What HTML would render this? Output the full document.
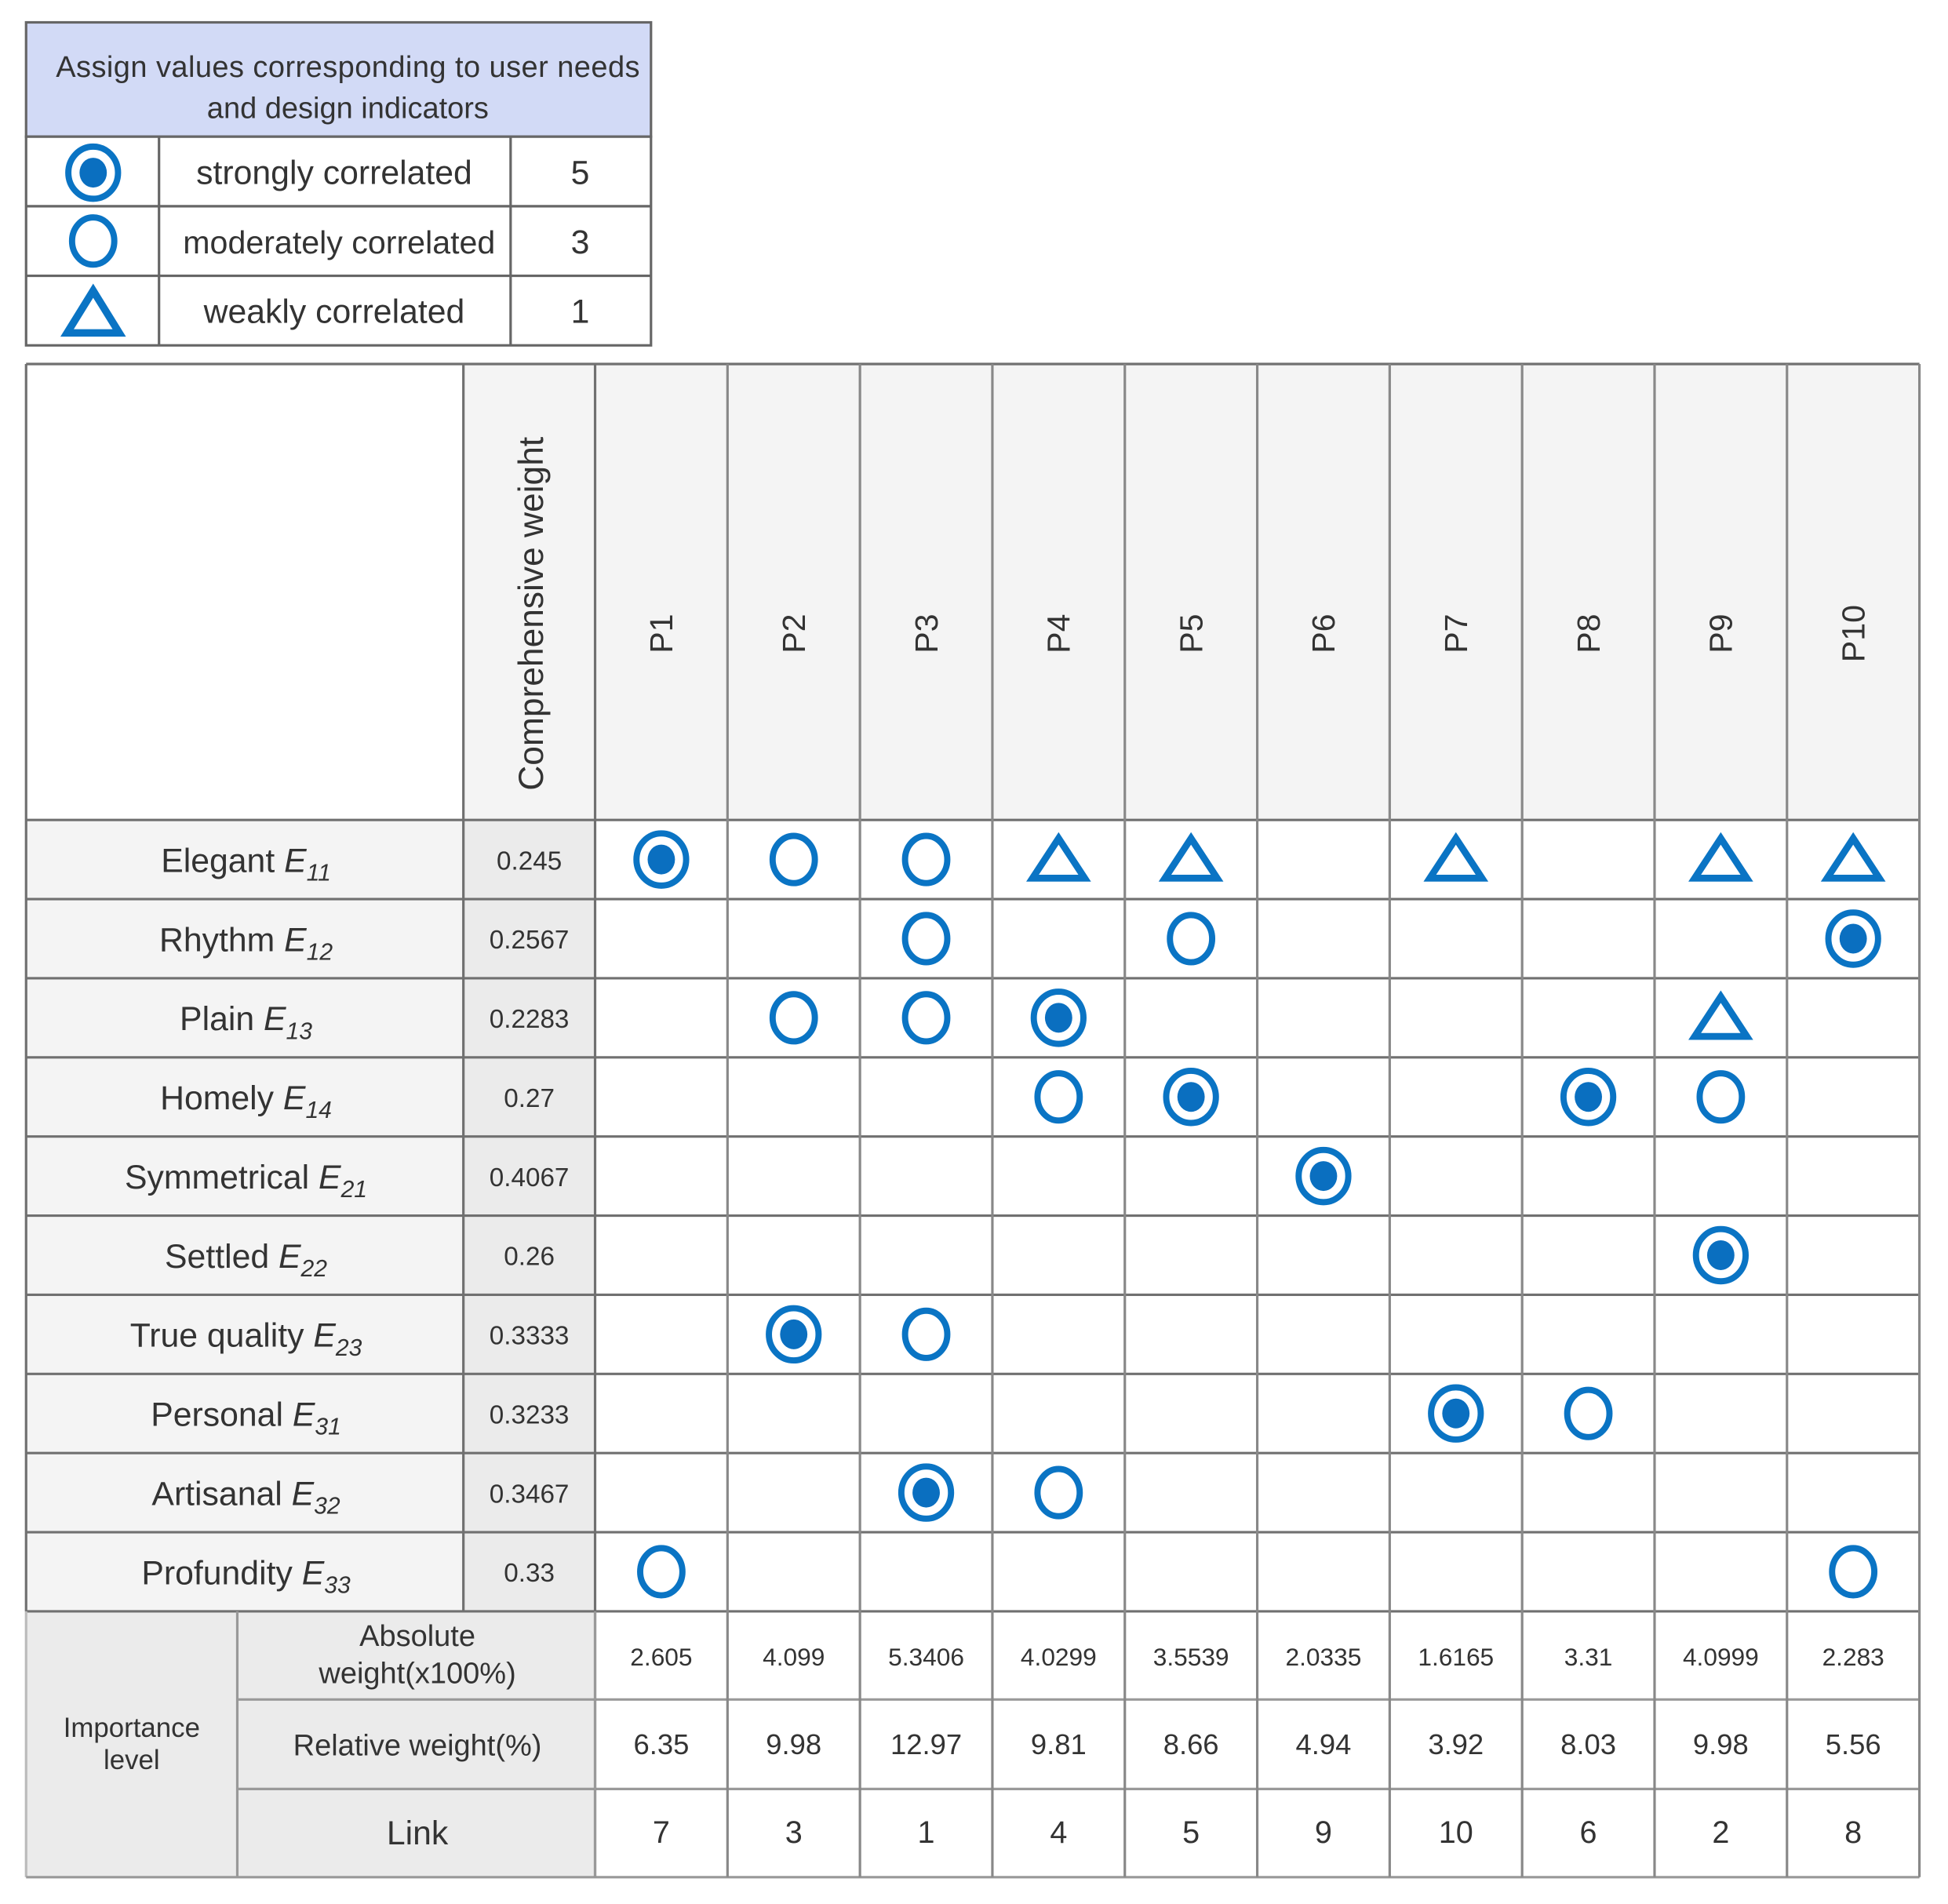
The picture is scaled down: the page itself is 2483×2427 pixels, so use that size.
<!DOCTYPE html>
<html><head><meta charset="utf-8">
<style>
html,body{margin:0;padding:0;background:#fff;}
svg{display:block;}
text{font-family:"Liberation Sans",sans-serif;fill:#333;}
</style></head>
<body>
<svg id="chart" width="2483" height="2427" viewBox="0 0 1568 1532.6" preserveAspectRatio="none" xmlns="http://www.w3.org/2000/svg">
<g id="legend">
 <rect x="21" y="18" width="503" height="92" fill="#d2daf6" stroke="#666" stroke-width="2"/>
 <text x="280" y="62" font-size="24" text-anchor="middle" fill="#222" textLength="470">Assign values corresponding to user needs</text>
 <text x="280" y="95" font-size="24" text-anchor="middle" fill="#222">and design indicators</text>
 <rect x="21" y="110" width="503" height="168" fill="#fff" stroke="#666" stroke-width="2"/>
 <line x1="21" y1="166" x2="524" y2="166" stroke="#666" stroke-width="2"/>
 <line x1="21" y1="222" x2="524" y2="222" stroke="#666" stroke-width="2"/>
 <line x1="128" y1="110" x2="128" y2="278" stroke="#666" stroke-width="2"/>
 <line x1="411" y1="110" x2="411" y2="278" stroke="#666" stroke-width="2"/>
 <g>
  <ellipse cx="75" cy="139" rx="20" ry="21" fill="none" stroke="#0a74c4" stroke-width="5"/>
  <ellipse cx="75" cy="139" rx="11" ry="12" fill="#0a6fc0"/>
  <text x="269" y="148" font-size="27" text-anchor="middle">strongly correlated</text>
  <text x="467" y="148" font-size="27" text-anchor="middle">5</text>
 </g>
 <g>
  <ellipse cx="75" cy="194" rx="17" ry="19" fill="none" stroke="#0a74c4" stroke-width="5"/>
  <text x="273" y="204" font-size="26" text-anchor="middle">moderately correlated</text>
  <text x="467" y="204" font-size="27" text-anchor="middle">3</text>
 </g>
 <g>
  <polygon points="75,234 96,268 54,268" fill="none" stroke="#0a74c4" stroke-width="6"/>
  <text x="269" y="260" font-size="27" text-anchor="middle">weakly correlated</text>
  <text x="467" y="260" font-size="27" text-anchor="middle">1</text>
 </g>
</g>
<g id="table"></g>
</svg>
<script>
const products = ["P1","P2","P3","P4","P5","P6","P7","P8","P9","P10"];
const needs = ["Elegant","Rhythm","Plain","Homely","Symmetrical","Settled","True quality","Personal","Artisanal","Profundity"];
const needSubs = ["11","12","13","14","21","22","23","31","32","33"];
const weights = ["0.245","0.2567","0.2283","0.27","0.4067","0.26","0.3333","0.3233","0.3467","0.33"];
const rowE11 = [5,3,3,1,1,0,1,0,1,1];
const rowE12 = [0,0,3,0,3,0,0,0,0,5];
const rowE13 = [0,3,3,5,0,0,0,0,1,0];
const rowE14 = [0,0,0,3,5,0,0,5,3,0];
const rowE21 = [0,0,0,0,0,5,0,0,0,0];
const rowE22 = [0,0,0,0,0,0,0,0,5,0];
const rowE23 = [0,5,3,0,0,0,0,0,0,0];
const rowE31 = [0,0,0,0,0,0,5,3,0,0];
const rowE32 = [0,0,5,3,0,0,0,0,0,0];
const rowE33 = [3,0,0,0,0,0,0,0,0,3];
const absWeights = ["2.605","4.099","5.3406","4.0299","3.5539","2.0335","1.6165","3.31","4.0999","2.283"];
const relWeights = ["6.35","9.98","12.97","9.81","8.66","4.94","3.92","8.03","9.98","5.56"];
const links = ["7","3","1","4","5","9","10","6","2","8"];

const matrix=[rowE11,rowE12,rowE13,rowE14,rowE21,rowE22,rowE23,rowE31,rowE32,rowE33];
const NS="http://www.w3.org/2000/svg";
const g=document.getElementById('table');
function el(tag,attrs,parent){const e=document.createElementNS(NS,tag);for(const k in attrs)e.setAttribute(k,attrs[k]);(parent||g).appendChild(e);return e;}
const L=21,R=1545,labelR=373,wR=479,T=293,headB=660;
const colW=(R-wR)/products.length;
const rowH=(1297-headB)/needs.length;
function colX(i){return wR+i*colW;}
function rowY(i){return headB+i*rowH;}
const lineC="#707070";
el('rect',{x:L,y:T,width:labelR-L,height:headB-T,fill:'#fff'});
el('rect',{x:labelR,y:T,width:wR-labelR,height:headB-T,fill:'#f4f4f4'});
products.forEach((p,i)=>{
  const r=el('rect',{x:colX(i),y:T,width:colW,height:headB-T,fill:'#f4f4f4'});
  
  
  const cx=colX(i)+colW/2+9,cy=510;
  const t=el('text',{x:cx,y:cy,'font-size':26,'text-anchor':'middle',transform:`rotate(-90 ${cx} ${cy})`});
  t.textContent=p;
  
  
});
{const cx=437,cy=494;const t=el('text',{x:cx,y:cy,'font-size':28,'text-anchor':'middle',transform:`rotate(-90 ${cx} ${cy})`});t.textContent='Comprehensive weight';

}
needs.forEach((n,r)=>{
  const y=rowY(r);
  el('rect',{x:L,y:y,width:labelR-L,height:rowH,fill:'#f4f4f4'});
  el('rect',{x:labelR,y:y,width:wR-labelR,height:rowH,fill:'#ebebeb'});
  el('rect',{x:wR,y:y,width:R-wR,height:rowH,fill:'#fff'});
  const t=el('text',{x:198,y:y+rowH/2+10,'font-size':27,'text-anchor':'middle'});
  
  
  t.appendChild(document.createTextNode(n+' '));
  const ts=el('tspan',{'font-style':'italic'},t);ts.textContent='E';
  const sb=el('tspan',{'font-style':'italic','font-size':19,dy:7},t);sb.textContent=needSubs[r];
  const w=el('text',{x:426,y:y+rowH/2+8,'font-size':21,'text-anchor':'middle'});w.textContent=weights[r];
  
  
  matrix[r].forEach((v,c)=>{
    const cx=colX(c)+colW/2,cy=y+rowH/2;
    if(v===5){
      const s=el('g',{});
      
      
      el('ellipse',{cx:cx,cy:cy,rx:20,ry:21,fill:'none',stroke:'#0a74c4','stroke-width':5},s);
      el('ellipse',{cx:cx,cy:cy,rx:11,ry:12,fill:'#0a6fc0'},s);
    }else if(v===3){
      const s=el('ellipse',{cx:cx,cy:cy,rx:17,ry:19,fill:'none',stroke:'#0a74c4','stroke-width':5});
      
      
    }else if(v===1){
      const s=el('polygon',{points:`${cx},${cy-17} ${cx+21},${cy+15} ${cx-21},${cy+15}`,fill:'none',stroke:'#0a74c4','stroke-width':5.5});
      
      
    }
  });
});
const b0=1297,bh=[71,72,71];
el('rect',{x:L,y:b0,width:191-L,height:214,fill:'#ebebeb'});
el('rect',{x:191,y:b0,width:wR-191,height:214,fill:'#ebebeb'});
el('rect',{x:wR,y:b0,width:R-wR,height:214,fill:'#fff'});
{const t=el('text',{x:106,y:1398,'font-size':22,'text-anchor':'middle'});t.textContent='Importance';


const t2=el('text',{x:106,y:1424,'font-size':22,'text-anchor':'middle'});t2.textContent='level';}
const bl=[['Absolute','weight(x100%)'],['Relative weight(%)'],['Link']];
const bvals=[absWeights,relWeights,links];
const bfs=[20,23,25];
let yy=b0;
bl.forEach((lab,i)=>{
  if(lab.length===2){
    const a=el('text',{x:336,y:yy+28,'font-size':24,'text-anchor':'middle'});a.textContent=lab[0];
    const b=el('text',{x:336,y:yy+58,'font-size':24,'text-anchor':'middle'});b.textContent=lab[1];
  }else{
    const a=el('text',{x:336,y:yy+bh[i]/2+9,'font-size':i===2?27:24,'text-anchor':'middle'});a.textContent=lab[0];
  }
  bvals[i].forEach((v,c)=>{
    const t=el('text',{x:colX(c)+colW/2,y:yy+bh[i]/2+8,'font-size':bfs[i],'text-anchor':'middle'});t.textContent=v;
    
    
  });
  yy+=bh[i];
});
function ln(x1,y1,x2,y2,c){el('line',{x1,y1,x2,y2,stroke:c||lineC,'stroke-width':2});}
ln(L,T,R,T);
for(let r=0;r<=needs.length;r++)ln(L,rowY(r),R,rowY(r));
ln(L,1297,L,1511,'#bbb');ln(L,1511,R,1511,'#999');
ln(191,1297,191,1511,'#999');
ln(191,1368,R,1368,'#999');ln(191,1440,R,1440,'#999');
ln(L,T,L,1297);ln(labelR,T,labelR,1297);
for(let i=0;i<=products.length;i++)ln(colX(i),T,colX(i),1511,i===0?lineC:'#888');
ln(wR,1297,wR,1511,'#999');
</script>
</body></html>
